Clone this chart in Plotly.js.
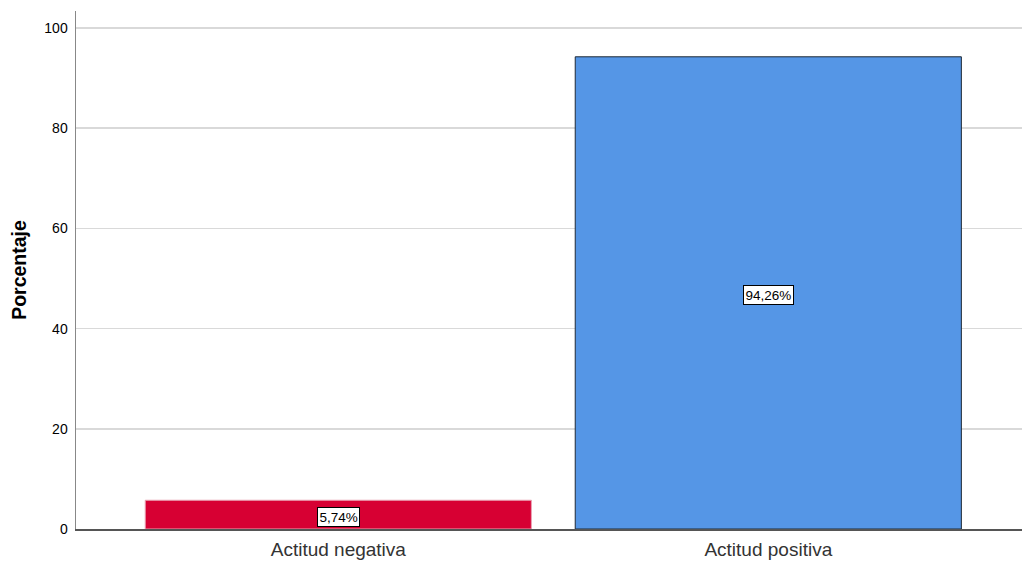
<!DOCTYPE html>
<html>
<head>
<meta charset="utf-8">
<script src="https://cdn.plot.ly/plotly-3.0.1.min.js"></script>
<style>html,body{margin:0;padding:0;background:#fff;}#chart{width:1023px;height:563px;}</style>
</head>
<body>
<div id="chart"></div>
<script>
const categories = ["Actitud negativa", "Actitud positiva"];
const percentages = [5.74, 94.26];
const labels = ["5,74%", "94,26%"];
const barColors = ["#D70033", "#5596E6"];
const yTicks = [0, 20, 40, 60, 80, 100];

const trace = {
  type: "bar",
  x: [0, 1],
  y: percentages,
  width: 0.898,
  marker: {color: barColors, line: {color: ["#e9a3b3", "#1f2a36"], width: 1}},
  hoverinfo: "none"
};

const annotations = percentages.map((v, i) => ({
  x: i, y: v / 2, xref: "x", yref: "y", yshift: -2,
  text: labels[i], showarrow: false,
  font: {family: "Liberation Sans, Arial, sans-serif", size: 13.5, color: "#000"},
  bgcolor: "#ffffff", bordercolor: "#000000", borderwidth: 1, borderpad: 1.5
}));

const layout = {
  width: 1023, height: 563,
  margin: {l: 76, r: 1, t: 11, b: 34},
  paper_bgcolor: "#fff", plot_bgcolor: "#fff",
  showlegend: false,
  font: {family: "Liberation Sans, Arial, sans-serif", color: "#000"},
  xaxis: {
    range: [-0.61, 1.59],
    tickvals: [0, 1], ticktext: categories,
    tickfont: {size: 19, color: "#333"},
    showgrid: false, zeroline: false,
    showline: true, linecolor: "#555", linewidth: 1.5,
    ticks: "", ticklen: 0,
    ticklabelstandoff: 3
  },
  yaxis: {
    range: [0, 103.4],
    tickvals: yTicks,
    tickfont: {size: 14, color: "#000"},
    showgrid: true, gridcolor: "#d9d9d9", gridwidth: 1.5,
    zeroline: false,
    showline: true, linecolor: "#888", linewidth: 1.5,
    ticks: "", ticklen: 0,
    ticklabelstandoff: 4,
    title: {text: "<b>Porcentaje</b>", font: {size: 19.5, color: "#000"}, standoff: 12}
  },
  annotations: annotations
};

Plotly.newPlot("chart", [trace], layout, {displayModeBar: false, staticPlot: true});
</script>
</body>
</html>
